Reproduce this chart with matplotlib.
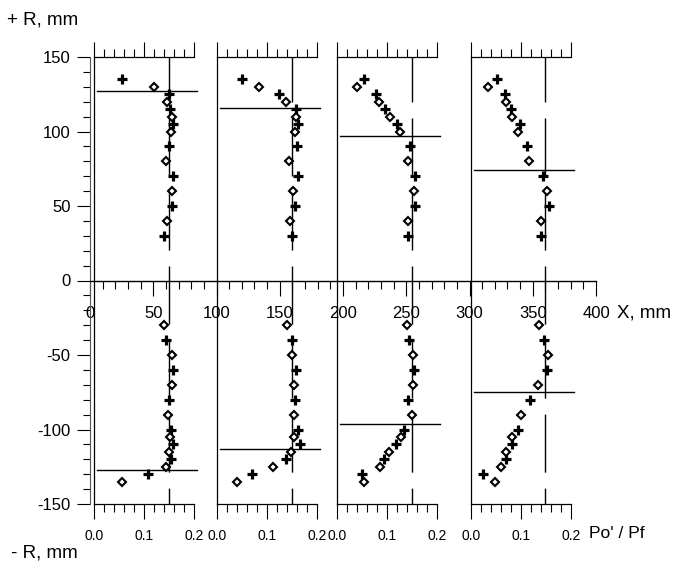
import numpy as np
import matplotlib
matplotlib.use('Agg')
import matplotlib.pyplot as plt
from matplotlib import font_manager

# R positions (mm) of the two marker series, upper and lower half
R_top_plus = [135, 125, 115, 105, 90, 70, 50, 30]
R_top_diam = [130, 120, 110, 100, 80, 60, 40]
R_bot_plus = [-40, -60, -80, -100, -110, -120, -130]
R_bot_diam = [-30, -50, -70, -90, -105, -115, -125, -135]

# Po'/Pf values
top_plus = [
    [0.055, 0.150, 0.152, 0.157, 0.149, 0.157, 0.156, 0.139],
    [0.049, 0.123, 0.157, 0.161, 0.159, 0.162, 0.156, 0.150],
    [0.053, 0.077, 0.096, 0.119, 0.146, 0.156, 0.155, 0.141],
    [0.051, 0.068, 0.080, 0.098, 0.111, 0.143, 0.155, 0.139],
]
top_diam = [
    [0.119, 0.145, 0.156, 0.154, 0.143, 0.155, 0.145],
    [0.084, 0.137, 0.157, 0.155, 0.143, 0.151, 0.146],
    [0.040, 0.083, 0.105, 0.125, 0.141, 0.153, 0.141],
    [0.033, 0.070, 0.082, 0.093, 0.115, 0.151, 0.139],
]
bot_plus = [
    [0.143, 0.157, 0.149, 0.153, 0.157, 0.153, 0.107],
    [0.149, 0.157, 0.155, 0.161, 0.166, 0.137, 0.070],
    [0.143, 0.153, 0.142, 0.134, 0.118, 0.094, 0.049],
    [0.146, 0.151, 0.117, 0.093, 0.081, 0.070, 0.023],
]
bot_diam = [
    [0.139, 0.156, 0.155, 0.147, 0.151, 0.149, 0.143, 0.055],
    [0.139, 0.149, 0.154, 0.154, 0.153, 0.147, 0.111, 0.039],
    [0.139, 0.151, 0.152, 0.150, 0.127, 0.103, 0.086, 0.053],
    [0.136, 0.153, 0.133, 0.099, 0.082, 0.069, 0.060, 0.047],
]

# boundary radius lines and reference pressure level per section
R_edge_top = [127, 116, 97, 74]
R_edge_bot = [-127, -113, -96, -75]
ref_level = [0.15, 0.15, 0.15, 0.147]

x_ticks_mm = np.arange(0, 401, 50)
r_ticks = np.arange(-150, 151, 50)
p_ticks = [0.0, 0.1, 0.2]
p_labels = ['0.0', '0.1', '0.2']

# font: narrow sans if there, otherwise the regular one
names = {f.name for f in font_manager.fontManager.ttflist}
if 'Liberation Sans Narrow' in names:
    fam, fs_tick, fs_lab, fs_small = 'Liberation Sans Narrow', 13.2, 15.5, 11.5
else:
    fam, fs_tick, fs_lab, fs_small = 'Liberation Sans', 12, 13.5, 10
plt.rcParams['font.family'] = [fam, 'DejaVu Sans']
plt.rcParams['axes.unicode_minus'] = False

W, H = 674, 574
fig = plt.figure(figsize=(W / 100, H / 100), dpi=100)

y_top, y_bot = 57, 504
def box(x0, x1):
    return [x0 / W, 1 - y_bot / H, (x1 - x0) / W, (y_bot - y_top) / H]

# main X / R axes
ax = fig.add_axes(box(90, 596))
ax.patch.set_visible(False)
ax.set_xlim(0, 400)
ax.set_ylim(-150, 150)
for s in ['top', 'right']:
    ax.spines[s].set_visible(False)
ax.spines['bottom'].set_position(('data', 0))
ax.spines['bottom'].set_linewidth(1.0)
ax.spines['left'].set_linewidth(0.8)
ax.spines['left'].set_color('#555555')
ax.set_xticks(x_ticks_mm)
ax.set_xticks(np.arange(0, 401, 10), minor=True)
ax.set_yticks(r_ticks)
ax.set_yticks(np.arange(-150, 151, 10), minor=True)
ax.tick_params(axis='x', which='major', direction='out', length=11, width=0.8,
               pad=7.5, labelsize=fs_tick)
ax.tick_params(axis='x', which='minor', direction='out', length=5.5, width=0.8)
ax.tick_params(axis='y', which='major', direction='out', length=9.5, width=0.8,
               pad=4.5, labelsize=fs_tick)
ax.tick_params(axis='y', which='minor', direction='out', length=5, width=0.8)

# four sections
lefts = [94, 217, 337, 471]
for i, x0 in enumerate(lefts):
    p = fig.add_axes(box(x0, x0 + 100))
    p.patch.set_visible(False)
    p.set_xlim(0, 0.2)
    p.set_ylim(-150, 150)
    p.spines['right'].set_visible(False)
    for s in ['left', 'top', 'bottom']:
        p.spines[s].set_linewidth(0.9)
    p.set_yticks([])
    p.set_xticks(p_ticks)
    p.set_xticklabels(p_labels)
    p.set_xticks(np.arange(0, 0.201, 0.02), minor=True)
    p.tick_params(axis='x', which='both', top=True, bottom=True,
                  labeltop=False, direction='out', width=0.8)
    p.tick_params(axis='x', which='major', length=10.8, pad=7.5, labelsize=fs_small)
    p.tick_params(axis='x', which='minor', length=6)

    p.plot([ref_level[i], ref_level[i]], [150, -150], color='black', lw=1.0,
           linestyle=(9.4, (41.8, 11.5)), zorder=2)
    p.plot([0.005, 0.205], [R_edge_top[i], R_edge_top[i]], color='black',
           lw=1.0, clip_on=False, zorder=2)
    p.plot([0.005, 0.205], [R_edge_bot[i], R_edge_bot[i]], color='black',
           lw=1.0, clip_on=False, zorder=2)

    for xs, rs in [(top_plus[i], R_top_plus), (bot_plus[i], R_bot_plus)]:
        p.plot(xs, rs, linestyle='none', marker='+', ms=6.5, mew=2.3,
               color='black', zorder=4, clip_on=False)
    for xs, rs in [(top_diam[i], R_top_diam), (bot_diam[i], R_bot_diam)]:
        p.plot(xs, rs, linestyle='none', marker='D', ms=4.4, mew=1.5,
               mec='black', mfc='white', zorder=5, clip_on=False)

fig.text(7 / W, 1 - 20 / H, '+ R, mm', fontsize=fs_lab, ha='left', va='center')
fig.text(11 / W, 1 - 553 / H, '- R, mm', fontsize=fs_lab, ha='left', va='center')
fig.text(617 / W, 1 - 313 / H, 'X, mm', fontsize=fs_lab, ha='left', va='center')
fig.text(589 / W, 1 - 533 / H, "Po' / Pf", fontsize=fs_lab - 1, ha='left', va='center')

fig.savefig('out.png', dpi=100)
